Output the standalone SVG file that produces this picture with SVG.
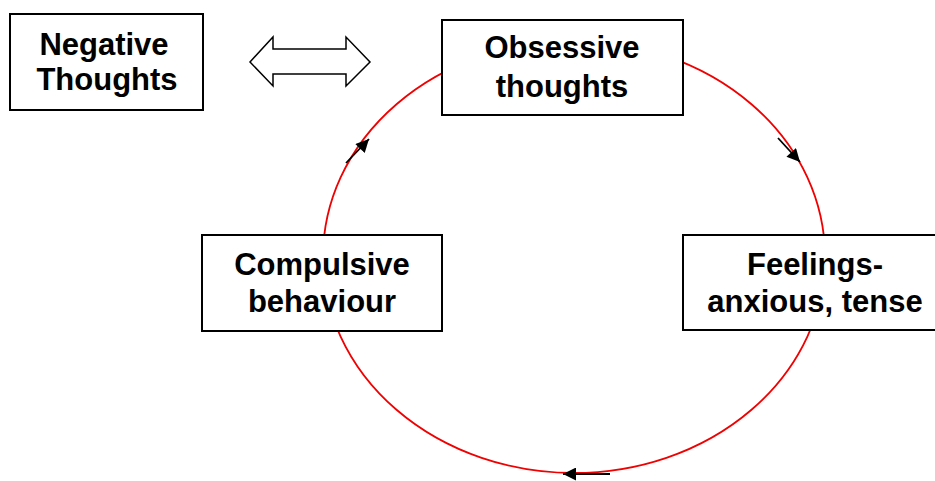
<svg xmlns="http://www.w3.org/2000/svg" width="935" height="481" viewBox="0 0 935 481">
<defs>
<style>
.box{fill:#fff;stroke:#000;stroke-width:2}
.lbl{font-family:"Liberation Sans",Arial,sans-serif;font-weight:bold;font-size:31px;text-anchor:middle;fill:#000}
.cyc{fill:none;stroke:#f00000;stroke-width:1.8}
</style>
<marker id="ah2" viewBox="0 0 10 10" refX="10" refY="5" markerWidth="14" markerHeight="13" markerUnits="userSpaceOnUse" orient="auto">
<path d="M0,0 L10,5 L0,10 z" fill="#000"/>
</marker>
</defs>
<g id="connectors">
<ellipse class="cyc" cx="574" cy="257" rx="251" ry="216"/>
<line x1="346" y1="163" x2="369" y2="139" stroke="#000" stroke-width="1.8" marker-end="url(#ah2)"/>
<line x1="778" y1="138" x2="800" y2="162" stroke="#000" stroke-width="1.8" marker-end="url(#ah2)"/>
<line x1="610" y1="474" x2="563" y2="474" stroke="#000" stroke-width="1.8" marker-end="url(#ah2)"/>
<polygon points="250,62 273,37 273,49 346,49 346,37 370,62 346,86 346,74 273,74 273,86" fill="#fff" stroke="#000" stroke-width="1.5"/>
</g>
<g id="negative">
<rect class="box" x="10" y="14" width="193" height="96"/>
<text class="lbl" x="104" y="55">Negative</text>
<text class="lbl" x="107" y="90">Thoughts</text>
</g>
<g id="obsessive">
<rect class="box" x="442" y="20" width="241" height="95"/>
<text class="lbl" x="562" y="58">Obsessive</text>
<text class="lbl" x="562" y="97">thoughts</text>
</g>
<g id="compulsive">
<rect class="box" x="202" y="235" width="240" height="96"/>
<text class="lbl" x="322" y="275">Compulsive</text>
<text class="lbl" x="322" y="312">behaviour</text>
</g>
<g id="feelings">
<rect class="box" x="683" y="235" width="260" height="95"/>
<text class="lbl" x="815" y="275">Feelings-</text>
<text class="lbl" x="815" y="312">anxious, tense</text>
</g>
</svg>
